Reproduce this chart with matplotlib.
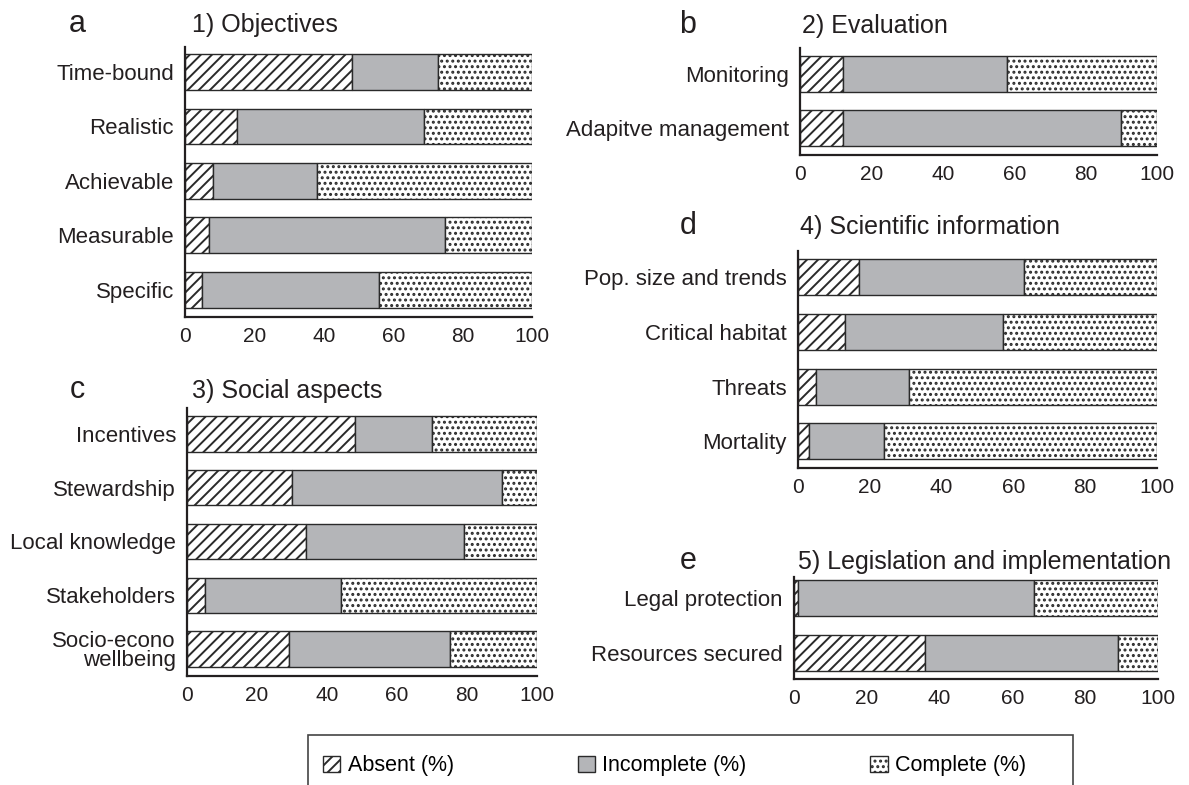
import numpy as np
import matplotlib
matplotlib.use("Agg")
import matplotlib.pyplot as plt
from matplotlib.patches import Patch, Rectangle

plt.rcParams['font.family'] = ['Liberation Sans', 'DejaVu Sans']
plt.rcParams['hatch.linewidth'] = 1.4

W, H = 1189, 785
EDGE = '#2a2a2a'
GREY = '#b4b5b8'

# 1) Objectives
obj_labels = ['Time-bound', 'Realistic', 'Achievable', 'Measurable', 'Specific']
obj_absent = [48, 15, 8, 7, 5]
obj_incomplete = [25, 54, 30, 68, 51]
obj_complete = [27, 31, 62, 25, 44]

# 2) Evaluation
eva_labels = ['Monitoring', 'Adapitve management']
eva_absent = [12, 12]
eva_incomplete = [46, 78]
eva_complete = [42, 10]

# 3) Social aspects
soc_labels = ['Incentives', 'Stewardship', 'Local knowledge', 'Stakeholders',
              'Socio-econo\nwellbeing']
soc_absent = [48, 30, 34, 5, 29]
soc_incomplete = [22, 60, 45, 39, 46]
soc_complete = [30, 10, 21, 56, 25]

# 4) Scientific information
sci_labels = ['Pop. size and trends', 'Critical habitat', 'Threats', 'Mortality']
sci_absent = [17, 13, 5, 3]
sci_incomplete = [46, 44, 26, 21]
sci_complete = [37, 43, 69, 76]

# 5) Legislation and implementation
leg_labels = ['Legal protection', 'Resources secured']
leg_absent = [1, 36]
leg_incomplete = [65, 53]
leg_complete = [34, 11]

xticks = [0, 20, 40, 60, 80, 100]


def px_axes(fig, left, top, right, bottom):
    return fig.add_axes([left / W, 1 - bottom / H, (right - left) / W, (bottom - top) / H])


def panel(fig, box, ylim, letter, title, title_x, letter_x, base_y,
          labels, absent, incomplete, complete):
    ax = px_axes(fig, *box)
    n = len(labels)
    y = np.arange(n)[::-1]
    absent = np.array(absent)
    incomplete = np.array(incomplete)
    complete = np.array(complete)
    kw = dict(height=0.66, edgecolor=EDGE, linewidth=1.0)
    ax.barh(y, absent, color='white', hatch='///', **kw)
    ax.barh(y, incomplete, left=absent, color=GREY, **kw)
    ax.barh(y, complete, left=absent + incomplete, color='white', hatch='...', **kw)
    ax.set_xlim(0, 100)
    ax.set_ylim(*ylim)
    ax.set_yticks(y)
    ax.set_yticklabels(labels, fontsize=16, linespacing=0.9)
    ax.set_xticks(xticks)
    ax.set_xticklabels([str(t) for t in xticks], fontsize=15)
    ax.tick_params(length=0, colors='#231f20')
    ax.tick_params(axis='x', pad=7)
    ax.tick_params(axis='y', pad=8)
    for s in ['top', 'right']:
        ax.spines[s].set_visible(False)
    for s in ['left', 'bottom']:
        ax.spines[s].set_linewidth(1.6)
        ax.spines[s].set_color('#231f20')
    fig.text(letter_x / W, 1 - base_y / H, letter, fontsize=22, ha='center',
             va='baseline', color='#231f20')
    fig.text(title_x / W, 1 - base_y / H, title, fontsize=18, ha='left',
             va='baseline', color='#231f20')
    return ax


fig = plt.figure(figsize=(W / 100, H / 100), dpi=100)

panel(fig, (185, 47, 532, 317), (-0.5, 4.46), 'a', '1) Objectives', 192, 77, 32,
      obj_labels, obj_absent, obj_incomplete, obj_complete)
panel(fig, (800, 48, 1157, 155), (-0.5, 1.48), 'b', '2) Evaluation', 802, 688, 33,
      eva_labels, eva_absent, eva_incomplete, eva_complete)
panel(fig, (187, 408, 537, 676), (-0.5, 4.48), 'c', '3) Social aspects', 192, 77, 398,
      soc_labels, soc_absent, soc_incomplete, soc_complete)
panel(fig, (798, 251, 1157, 468), (-0.49, 3.48), 'd', '4) Scientific information', 800, 688, 234,
      sci_labels, sci_absent, sci_incomplete, sci_complete)
panel(fig, (794, 577, 1158, 679), (-0.47, 1.38), 'e', '5) Legislation and implementation', 798, 688, 569,
      leg_labels, leg_absent, leg_incomplete, leg_complete)

# legend
handles = [Patch(facecolor='white', edgecolor=EDGE, hatch='///', linewidth=1.0),
           Patch(facecolor=GREY, edgecolor=EDGE, linewidth=1.0),
           Patch(facecolor='white', edgecolor=EDGE, hatch='...', linewidth=1.0)]
fig.legend(handles, ['Absent (%)', 'Incomplete (%)', 'Complete (%)'],
           loc='center left', bbox_to_anchor=(323 / W, 1 - 766 / H), ncol=3,
           frameon=False, fontsize=15.5, handlelength=0.8, handleheight=0.8,
           handletextpad=0.35, columnspacing=5.75, borderpad=0, borderaxespad=0)
fig.patches.append(Rectangle((308 / W, 1 - 810 / H), (1073 - 308) / W, 75 / H,
                             transform=fig.transFigure, fill=False,
                             edgecolor='#444444', linewidth=1.2))

fig.savefig('out.png', dpi=100)
